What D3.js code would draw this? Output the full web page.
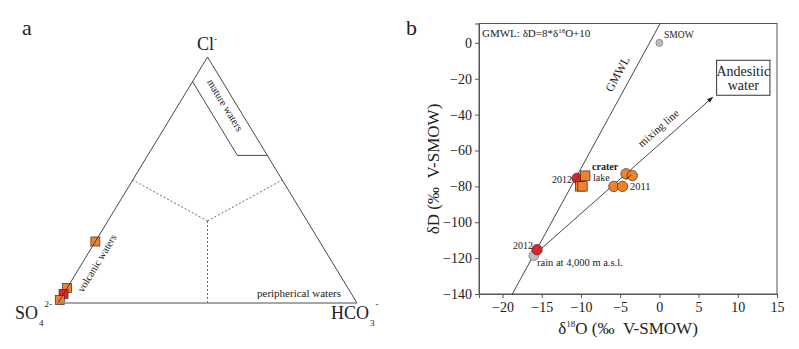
<!DOCTYPE html>
<html lang="en">
<head>
<meta charset="UTF-8">
<title>Ternary and isotope plot</title>
<script src="https://d3js.org/d3.v7.min.js"></script>
<style>
  body { margin: 0; background: #fff; }
  svg text { font-family: 'Liberation Serif', 'Times New Roman', 'DejaVu Serif', serif; fill: #222; }
</style>
</head>
<body>
<script>
    // panel a: ternary Cl - SO4 - HCO3 (fractions)
    var ternCl   = [0.25, 0.061, 0.037, 0.012];
    var ternHCO3 = [0, 0, 0, 0];
    var ternKind = ["lake", "lake", "2012", "lake"];

    // panel b: d18O / dD
    var lakeO18 = [-9.45, -10.1, -9.8];
    var lakeD   = [-74, -80, -80];
    var y2011O18 = [-5.8, -4.7, -4.25, -3.45];
    var y2011D   = [-80, -80, -73, -74];
    var y2012O18 = [-10.5, -15.6];
    var y2012D   = [-75.5, -115.3];
    var refName = ["SMOW", "rain"];
    var refO18  = [0, -16];
    var refD    = [0, -118.6];
    var mixStart = [-15, -114.5];
    var mixEnd   = [6.8, -30.3];
    var xTicks = [-20, -15, -10, -5, 0, 5, 10, 15];
    var yTicks = [0, -20, -40, -60, -80, -100, -120, -140];

    var orange = "#f0822c", red = "#e0242a", grey = "#bdbdbd", stroke = "#3a2a20";
    var serif = "'Liberation Serif', 'Times New Roman', 'DejaVu Serif', serif";

    var w = 799, h = 349;
    var svg = d3.select("body").append("svg").attr("width", w).attr("height", h)
                .attr("font-family", serif);

    // ---------- panel a ----------
    var tx = d3.scaleLinear().domain([0, 1]).range([58, 357]);
    var ty = d3.scaleLinear().domain([0, 1]).range([303, 57]);
    function tp(cl, hco3) { return [tx(hco3 + cl / 2), ty(cl)]; }

    var a = svg.append("g");
    a.append("text").attr("x", 22).attr("y", 35).style("font-size", "22px").text("a");

    // dashed sectors from the centre to edge midpoints
    var c = tp(1/3, 1/3);
    [[0.5, 0], [0.5, 0.5], [0, 0.5]].forEach(function(m) {
        var p = tp(m[0], m[1]);
        a.append("line").attr("x1", c[0]).attr("y1", c[1]).attr("x2", p[0]).attr("y2", p[1])
         .attr("stroke", "#444").attr("stroke-width", 0.8).attr("stroke-dasharray", "2,2");
    });

    // mature waters box
    var mw = [tp(0.9, 0), tp(0.6, 0.3), tp(0.6, 0.4)];
    a.append("path").attr("d", d3.line()(mw)).attr("fill", "none")
     .attr("stroke", "#333").attr("stroke-width", 0.9);

    // samples
    a.selectAll("rect.s").data(ternCl).enter().append("rect")
     .attr("x", function(d, i) { return tp(d, ternHCO3[i])[0] - 4.5; })
     .attr("y", function(d, i) { return tp(d, ternHCO3[i])[1] - 4.5; })
     .attr("width", 9).attr("height", 9)
     .attr("fill", function(d, i) { return ternKind[i] == "2012" ? red : orange; })
     .attr("stroke", stroke).attr("stroke-width", 0.7);

    // triangle edges
    var L = tp(0, 0), R = tp(0, 1), T = tp(1, 0);
    a.append("path").attr("d", d3.line()([L, T, R])).attr("fill", "none")
     .attr("stroke", "#333").attr("stroke-width", 0.9);
    a.append("line").attr("x1", L[0]).attr("y1", L[1]).attr("x2", R[0]).attr("y2", R[1])
     .attr("stroke", "#888").attr("stroke-width", 1.5);

    // corner labels
    var cl = a.append("text").attr("x", 197).attr("y", 50).style("font-size", "18px");
    cl.append("tspan").text("Cl");
    cl.append("tspan").attr("dy", -8).style("font-size", "9px").text("-");
    var so = a.append("text").attr("x", 15).attr("y", 319).style("font-size", "18px");
    so.append("tspan").text("SO");
    so.append("tspan").attr("dx", 1).attr("dy", 7).style("font-size", "9px").text("4");
    so.append("tspan").attr("dx", 1).attr("dy", -19).style("font-size", "9px").text("2-");
    var hc = a.append("text").attr("x", 331).attr("y", 319).style("font-size", "18px");
    hc.append("tspan").text("HCO");
    hc.append("tspan").attr("dx", 1).attr("dy", 7).style("font-size", "9px").text("3");
    hc.append("tspan").attr("dx", 1).attr("dy", -19).style("font-size", "9px").text("-");

    var ang = Math.atan2(ty(0) - ty(1), tx(1) - tx(0.5)) * 180 / Math.PI;
    a.append("text").attr("transform", "translate(222,107) rotate(" + ang + ")")
     .attr("text-anchor", "middle").style("font-size", "10.5px").text("mature waters");
    a.append("text").attr("transform", "translate(100,265) rotate(" + (-ang) + ")")
     .attr("text-anchor", "middle").style("font-size", "10.5px").text("volcanic waters");
    a.append("text").attr("x", 257).attr("y", 297).style("font-size", "11px").text("peripherical waters");

    // ---------- panel b ----------
    var x = d3.scaleLinear().domain([-23, 15]).range([479, 777]);
    var y = d3.scaleLinear().domain([-140, 10.8]).range([294, 23.5]);

    var b = svg.append("g");
    b.append("text").attr("x", 406).attr("y", 35).style("font-size", "22px").text("b");

    b.append("rect").attr("x", x(-23)).attr("y", y(10.8))
     .attr("width", x(15) - x(-23)).attr("height", y(-140) - y(10.8))
     .attr("fill", "none").attr("stroke", "#555").attr("stroke-width", 1);

    var xAxis = b.append("g").attr("transform", "translate(0," + y(-140) + ")")
        .call(d3.axisBottom(x).tickValues(xTicks).tickSize(4).tickPadding(4));
    var yAxis = b.append("g").attr("transform", "translate(" + x(-23) + ",0)")
        .call(d3.axisLeft(y).tickValues(yTicks).tickSize(4).tickPadding(3));
    [xAxis, yAxis].forEach(function(g) {
        g.attr("font-family", serif).attr("font-size", 14);
        g.select(".domain").attr("stroke", "#555");
        g.selectAll(".tick line").attr("stroke", "#555");
        g.selectAll(".tick text").attr("fill", "#222");
    });

    // GMWL dD = 8*d18O + 10
    var g0 = (-140 - 10) / 8, g1 = (10.8 - 10) / 8;
    b.append("line").attr("x1", x(g0)).attr("y1", y(-140)).attr("x2", x(g1)).attr("y2", y(10.8))
     .attr("stroke", "#333").attr("stroke-width", 0.9);

    // mixing line with arrow
    svg.append("defs").append("marker").attr("id", "arr").attr("viewBox", "0 0 10 10")
       .attr("refX", 9).attr("refY", 5).attr("markerWidth", 7).attr("markerHeight", 7)
       .attr("orient", "auto").append("path").attr("d", "M0,1.5L10,5L0,8.5z").attr("fill", "#222");
    b.append("line").attr("x1", x(mixStart[0])).attr("y1", y(mixStart[1]))
     .attr("x2", x(mixEnd[0])).attr("y2", y(mixEnd[1]))
     .attr("stroke", "#333").attr("stroke-width", 0.9).attr("marker-end", "url(#arr)");

    // andesitic water box
    b.append("rect").attr("x", x(7.3)).attr("y", y(-9.7))
     .attr("width", x(14.1) - x(7.3)).attr("height", y(-29.2) - y(-9.7))
     .attr("fill", "#fff").attr("stroke", "#333").attr("stroke-width", 1);
    b.append("text").attr("x", x(10.7)).attr("y", 76).attr("text-anchor", "middle")
     .style("font-size", "14px").text("Andesitic");
    b.append("text").attr("x", x(10.7)).attr("y", 90).attr("text-anchor", "middle")
     .style("font-size", "14px").text("water");

    // points
    b.selectAll("circle.ref").data(refO18).enter().append("circle")
     .attr("cx", function(d) { return x(d); })
     .attr("cy", function(d, i) { return y(refD[i]); })
     .attr("r", function(d, i) { return i == 0 ? 3.5 : 5; })
     .attr("fill", grey).attr("stroke", "#777").attr("stroke-width", 0.7);
    b.selectAll("circle.r12").data(y2012O18).enter().append("circle")
     .attr("cx", function(d) { return x(d); })
     .attr("cy", function(d, i) { return y(y2012D[i]); })
     .attr("r", 5.2).attr("fill", red).attr("stroke", stroke).attr("stroke-width", 0.7);
    b.selectAll("rect.lake").data(lakeO18).enter().append("rect")
     .attr("x", function(d) { return x(d) - 4.7; })
     .attr("y", function(d, i) { return y(lakeD[i]) - 4.7; })
     .attr("width", 9.4).attr("height", 9.4)
     .attr("fill", orange).attr("stroke", stroke).attr("stroke-width", 0.7);
    b.selectAll("circle.o11").data(y2011O18).enter().append("circle")
     .attr("cx", function(d) { return x(d); })
     .attr("cy", function(d, i) { return y(y2011D[i]); })
     .attr("r", 5.2).attr("fill", orange).attr("stroke", stroke).attr("stroke-width", 0.7);

    // short segments of the lines over the markers
    b.append("line").attr("x1", x(-10.9)).attr("y1", y(-77.2)).attr("x2", x(-10.1)).attr("y2", y(-73.8))
     .attr("stroke", "#333").attr("stroke-width", 0.6);
    b.append("line").attr("x1", x(-4.3)).attr("y1", y(-76.2)).attr("x2", x(-3.6)).attr("y2", y(-73.5))
     .attr("stroke", "#222").attr("stroke-width", 0.8);

    // labels
    function lab(px, py, s, fs) {
        return b.append("text").attr("x", px).attr("y", py).style("font-size", fs).text(s);
    }
    b.append("text").attr("x", 482).attr("y", 37).style("font-size", "11px")
     .html('GMWL: δD=8*δ<tspan dy="-4" style="font-size:7px">18</tspan><tspan dy="4">O+10</tspan>');
    lab(x(0.6), 38, "SMOW", "9.5px");
    lab(552, 183, "2012", "10px");
    lab(513, 249, "2012", "10px");
    lab(592, 170, "crater", "10px").style("font-weight", "bold");
    lab(593, 181, "lake", "10px");
    lab(630, 190, "2011", "10.5px");
    lab(537, 266, "rain at 4,000 m a.s.l.", "10.5px");

    var gAng = Math.atan2(y(-140) - y(10.8), x(g1) - x(g0)) * 180 / Math.PI;
    b.append("text").attr("transform", "translate(621,76) rotate(" + (-gAng) + ")")
     .attr("text-anchor", "middle").style("font-size", "12px").text("GMWL");
    var mAng = Math.atan2(y(mixStart[1]) - y(mixEnd[1]), x(mixEnd[0]) - x(mixStart[0])) * 180 / Math.PI;
    b.append("text").attr("transform", "translate(661,131) rotate(" + (-mAng) + ")")
     .attr("text-anchor", "middle").style("font-size", "11px").text("mixing line");

    // axis titles
    b.append("text").attr("x", 628).attr("y", 334).attr("text-anchor", "middle")
     .style("font-size", "17px")
     .html('δ<tspan dy="-7" style="font-size:9px">18</tspan><tspan dy="7">O (‰\u00a0\u00a0V-SMOW)</tspan>');
    b.append("text").attr("transform", "translate(439,169) rotate(-90)").attr("text-anchor", "middle")
     .style("font-size", "17px").text("δD (‰\u00a0\u00a0V-SMOW)");
</script>
</body>
</html>
